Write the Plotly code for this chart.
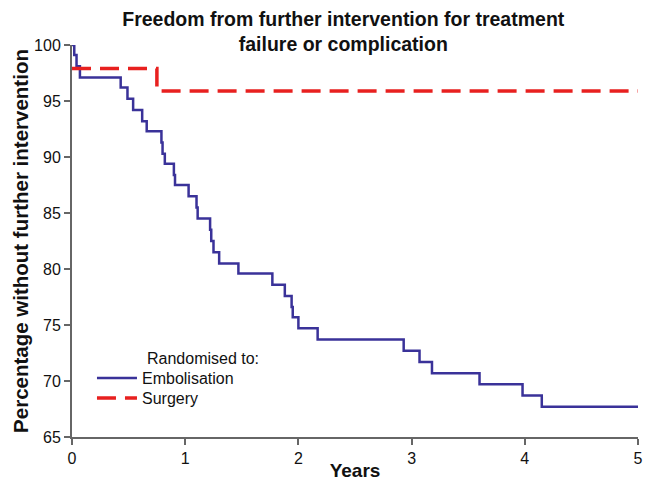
import plotly.graph_objects as go

# Embolisation arm (Kaplan-Meier steps)
emb_years = [0, 0.02, 0.04, 0.07, 0.43, 0.49, 0.54, 0.62, 0.66, 0.79, 0.80, 0.82,
             0.90, 0.91, 1.03, 1.10, 1.11, 1.22, 1.23, 1.25, 1.30, 1.47, 1.77,
             1.88, 1.94, 1.95, 2.00, 2.17, 2.93, 3.07, 3.18, 3.60, 3.98, 4.15, 5.0]
emb_pct = [100, 99.1, 98.1, 97.1, 96.2, 95.2, 94.2, 93.2, 92.3, 91.3, 90.3, 89.4,
           88.4, 87.5, 86.5, 85.5, 84.5, 83.5, 82.5, 81.5, 80.5, 79.6, 78.6,
           77.6, 76.6, 75.7, 74.7, 73.7, 72.7, 71.7, 70.7, 69.7, 68.7, 67.7, 67.7]

# Surgery arm
surg_years = [0, 0.75, 5.0]
surg_pct = [97.9, 95.9, 95.9]

x_ticks = [0, 1, 2, 3, 4, 5]
y_ticks = [65, 70, 75, 80, 85, 90, 95, 100]

FONT = "Liberation Sans, Arial, Helvetica, sans-serif"
TXT = "#111"

fig = go.Figure()
fig.add_trace(go.Scatter(
    x=emb_years, y=emb_pct, mode="lines", line_shape="hv",
    name="Embolisation", legend="legend",
    line=dict(color="#3a3299", width=2.5)))
fig.add_trace(go.Scatter(
    x=surg_years, y=surg_pct, mode="lines", line_shape="hv",
    name="Surgery", legend="legend2",
    line=dict(color="#e8201f", width=3.5, dash="19px,9px")))

leg_common = dict(xanchor="left", yanchor="middle", bgcolor="rgba(0,0,0,0)",
                  font=dict(size=16, family=FONT, color=TXT), itemwidth=40,
                  borderwidth=0)

fig.update_layout(
    width=646, height=473,
    margin=dict(l=64, r=16, t=37, b=44),
    paper_bgcolor="white", plot_bgcolor="white",
    font=dict(family=FONT, size=16, color=TXT),
    title=dict(text="<b>Freedom from further intervention for treatment<br>failure or complication</b>",
               x=0.519, xanchor="center", xref="container",
               y=0.962, yanchor="top", yref="container",
               font=dict(size=19.5, family=FONT, color=TXT)),
    showlegend=True,
    legend=dict(x=0.0353, y=0.1505, **leg_common),
    legend2=dict(x=0.0353, y=0.0995, **leg_common),
    annotations=[dict(text="Randomised to:", x=0.129, y=0.2015, xref="paper", yref="paper",
                      xanchor="left", yanchor="middle", showarrow=False,
                      font=dict(size=16, family=FONT, color=TXT))],
)
fig.update_xaxes(range=[0, 5], tickvals=x_ticks, showgrid=False, zeroline=False,
                 showline=True, linecolor="#666", linewidth=2, automargin=False,
                 ticks="outside", ticklen=6, tickwidth=2, tickcolor="#666",
                 tickfont=dict(size=16),
                 title=dict(text="<b>Years</b>", font=dict(size=19, family=FONT), standoff=2))
fig.update_yaxes(range=[65, 100], tickvals=y_ticks, showgrid=False, zeroline=False,
                 showline=True, linecolor="#666", linewidth=2, automargin=False,
                 ticks="outside", ticklen=6, tickwidth=2, tickcolor="#666",
                 tickfont=dict(size=16),
                 title=dict(text="<b>Percentage without further intervention</b>",
                            font=dict(size=20.5, family=FONT), standoff=0))

fig.write_html("out.html")
